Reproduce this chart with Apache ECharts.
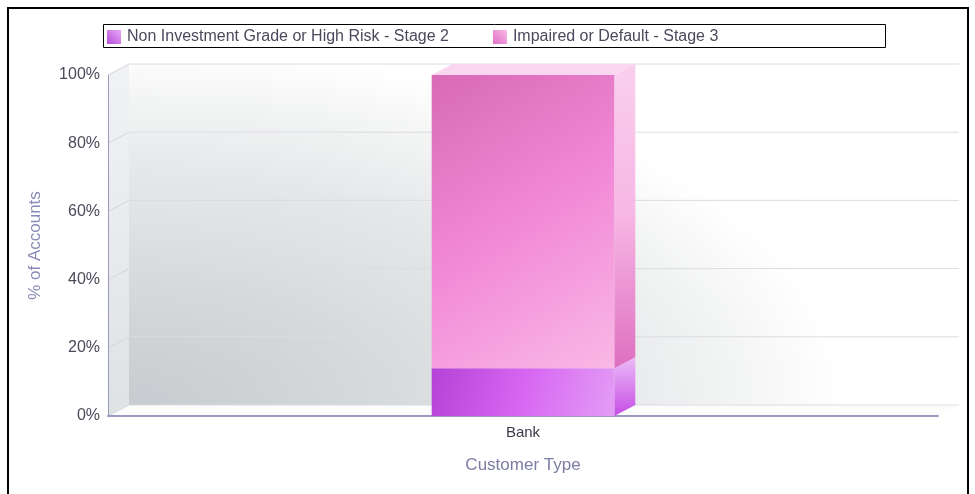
<!DOCTYPE html>
<html>
<head>
<meta charset="utf-8">
<script src="https://cdn.jsdelivr.net/npm/echarts@6/dist/echarts.min.js"></script>
<style>
  html, body { margin: 0; padding: 0; background: #fff; }
  #chart { width: 975px; height: 494px; }
</style>
</head>
<body>
<div id="chart"></div>
<script>
// data
const categories = ['Bank'];
const stage2 = [14];
const stage3 = [86];
const yTicks = [0, 20, 40, 60, 80, 100];
const seriesNames = ['Non Investment Grade or High Risk - Stage 2', 'Impaired or Default - Stage 3'];

const DX = 21, DY = -11; // 3d depth offset
const FONT = 'Liberation Sans, Arial, sans-serif';

const lg = (x, y, x2, y2, stops) => new echarts.graphic.LinearGradient(x, y, x2, y2,
  stops.map((c, i) => ({ offset: i / (stops.length - 1), color: c })));

const faces = [
  { // stage 2
    front: lg(0, 0, 1, 1, ['#b443d6', '#d766f2', '#e39df5']),
    side: lg(0, 0, 0, 1, ['#ecbcf9', '#c64ee4']),
    top: '#efc6fa',
    legend: lg(0, 1, 1, 0, ['#b84cd8', '#e8a8f8'])
  },
  { // stage 3
    front: lg(0, 0, 1, 1, ['#d86ab6', '#f289d7', '#f9b8e6']),
    side: lg(0, 0, 0, 1, ['#fad0ee', '#f7b6e4', '#de6fc0']),
    top: '#fad6f0',
    legend: lg(0, 1, 1, 0, ['#e070c4', '#f9b8e6'])
  }
];

function barSegment(si, isTop) {
  return function (params, api) {
    const i = api.value(0);
    const b = api.value(1), t = api.value(2);
    const cx = api.coord([i, 0])[0];
    const w = api.size([1, 0])[0] * 0.22;
    const xL = cx - w / 2, xR = cx + w / 2;
    const yT = api.coord([i, t])[1], yB = api.coord([i, b])[1];
    const f = faces[si];
    const children = [
      { type: 'polygon', shape: { points: [[xR, yT], [xR + DX, yT + DY], [xR + DX, yB + DY], [xR, yB]] }, style: { fill: f.side } },
      { type: 'rect', shape: { x: xL, y: yT, width: w, height: yB - yT }, style: { fill: f.front } }
    ];
    if (isTop) {
      children.push({ type: 'polygon', shape: { points: [[xL, yT], [xR, yT], [xR + DX, yT + DY], [xL + DX, yT + DY]] }, style: { fill: f.top } });
    }
    return { type: 'group', children };
  };
}

function walls(params, api) {
  const cs = params.coordSys;
  const x0 = cs.x, x1 = cs.x + cs.width;
  const y0 = api.coord([0, 0])[1], y100 = api.coord([0, 100])[1];
  const sx = 2.0; // stretch the radial shading into an ellipse
  const children = [];
  children.push({ type: 'rect', x: x0 + DX, y: y100 + DY, scaleX: sx,
    shape: { x: 0, y: 0, width: (x1 - x0) / sx, height: y0 - y100 },
    style: { fill: new echarts.graphic.RadialGradient(0, 1, 1.05, [
      { offset: 0, color: '#c8cbcf' }, { offset: 0.35, color: '#d7dadc' }, { offset: 0.65, color: '#e6e7e9' },
      { offset: 0.85, color: '#f3f4f4' }, { offset: 1, color: '#ffffff' }]) } });
  children.push({ type: 'polygon', shape: { points: [[x0, y0], [x0, y100], [x0 + DX, y100 + DY], [x0 + DX, y0 + DY]] },
    style: { fill: lg(0, 0, 0, 1, ['#f1f2f3', '#dfe2e3']) } });
  children.push({ type: 'polygon', shape: { points: [[x0, y0], [x1, y0], [x1 + DX, y0 + DY], [x0 + DX, y0 + DY]] },
    style: { fill: '#fcfcfd' } });
  yTicks.forEach(v => {
    const y = api.coord([0, v])[1];
    children.push({ type: 'line', shape: { x1: x0 + DX, y1: y + DY, x2: x1 + DX, y2: y + DY }, style: { stroke: '#dcdce4', lineWidth: 1 } });
    children.push({ type: 'line', shape: { x1: x0, y1: y, x2: x0 + DX, y2: y + DY }, style: { stroke: '#d6d6e0', lineWidth: 1 } });
  });
  return { type: 'group', children };
}

const chart = echarts.init(document.getElementById('chart'));
chart.setOption({
  animation: false,
  textStyle: { fontFamily: FONT },
  graphic: [
    { type: 'rect', shape: { x: 8, y: 8, width: 960, height: 500 }, style: { fill: 'none', stroke: '#000', lineWidth: 2 }, z: 100 },
    { type: 'rect', shape: { x: 103.5, y: 24.5, width: 782, height: 23 }, style: { fill: '#fff', stroke: '#000', lineWidth: 1 }, z: -1 }
  ],
  legend: {
    left: 107, top: 29, itemWidth: 14, itemHeight: 14, itemGap: 44,
    icon: 'rect',
    data: seriesNames,
    textStyle: { fontSize: 16, color: '#4a4a5c', fontFamily: FONT, padding: [0, 0, 0, 1] },
    padding: 0
  },
  grid: { left: 108, right: 37, top: 75, bottom: 78 },
  xAxis: {
    type: 'category', data: categories,
    name: 'Customer Type', nameLocation: 'middle', nameGap: 41,
    nameTextStyle: { color: '#7c7ca4', fontSize: 17 },
    axisLine: { lineStyle: { color: '#9a9ac0', width: 2 } },
    axisTick: { show: false },
    axisLabel: { color: '#3a3a4a', fontSize: 15, margin: 9 },
    splitLine: { show: false }
  },
  yAxis: {
    type: 'value', min: 0, max: 100, interval: 20,
    name: '% of Accounts', nameLocation: 'middle', nameGap: 64,
    nameTextStyle: { color: '#8a8ab4', fontSize: 17 },
    axisLine: { show: true, lineStyle: { color: '#9a9ac0', width: 1 } },
    axisTick: { show: false },
    axisLabel: { formatter: '{value}%', color: '#4a4a5a', fontSize: 16, margin: 8 },
    splitLine: { show: false }
  },
  series: [
    { type: 'custom', name: 'walls', renderItem: walls, data: [[0, 0]], z: 0, silent: true, legendHoverLink: false },
    { type: 'custom', name: seriesNames[0], z: 2, itemStyle: { color: faces[0].legend },
      renderItem: barSegment(0, false),
      data: categories.map((c, i) => [i, 0, stage2[i]]) },
    { type: 'custom', name: seriesNames[1], z: 2, itemStyle: { color: faces[1].legend },
      renderItem: barSegment(1, true),
      data: categories.map((c, i) => [i, stage2[i], stage2[i] + stage3[i]]) }
  ]
});
</script>
</body>
</html>
